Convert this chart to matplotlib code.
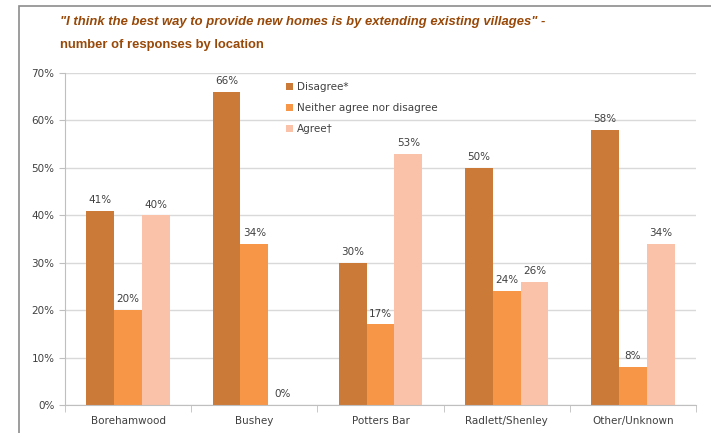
import numpy as np
import matplotlib.pyplot as plt
from matplotlib.patches import Rectangle
from matplotlib.ticker import PercentFormatter

locations = ['Borehamwood', 'Bushey', 'Potters Bar', 'Radlett/Shenley', 'Other/Unknown']
series = ['Disagree*', 'Neither agree nor disagree', 'Agree\u2020']
disagree = [41, 66, 30, 50, 58]
neither = [20, 34, 17, 24, 8]
agree = [40, 0, 53, 26, 34]
values = [disagree, neither, agree]
colors = ['#CC7A38', '#F79646', '#FAC2A8']

fig = plt.figure(figsize=(7.11, 4.33), dpi=100)
fig.patches.append(Rectangle((19/711, -0.1), 1.2, 1 - 6/433 + 0.1, transform=fig.transFigure,
                             fill=False, edgecolor='#8c8c8c', linewidth=1.2))

ax = fig.add_axes([65/711, 1 - 405/433, (696 - 65)/711, (405 - 73)/433])

x = np.arange(len(locations))
w = 0.22
for i, (vals, c, name) in enumerate(zip(values, colors, series)):
    pos = x + (i - 1) * w
    ax.bar(pos, vals, width=w, color=c, label=name)
    for p, v in zip(pos, vals):
        ax.text(p, v + 1.2, '%d%%' % v, ha='center', va='bottom', fontsize=7.5, color='#404040')

ax.set_xlim(-0.5, len(locations) - 0.5)
ax.set_ylim(0, 70)
ax.set_yticks(range(0, 71, 10))
ax.yaxis.set_major_formatter(PercentFormatter(decimals=0))
ax.yaxis.grid(True, color='#d9d9d9', linewidth=1)
ax.set_axisbelow(True)

ax.set_xticks(x)
ax.set_xticklabels(locations)
ax.set_xticks(np.arange(-0.5, len(locations)), minor=True)
ax.tick_params(axis='x', which='major', length=0, pad=8, labelsize=7.5, labelcolor='#404040')
ax.tick_params(axis='x', which='minor', length=5, color='#bfbfbf', direction='out')
ax.tick_params(axis='y', length=4, color='#bfbfbf', labelsize=7.5, labelcolor='#404040')

for s in ['top', 'right']:
    ax.spines[s].set_visible(False)
for s in ['left', 'bottom']:
    ax.spines[s].set_color('#bfbfbf')

leg = ax.legend(loc='upper left', bbox_to_anchor=(0.335, 1.0), frameon=False, fontsize=7.5,
                handlelength=0.7, handleheight=0.7, handletextpad=0.4, labelspacing=1.05)
for t in leg.get_texts():
    t.set_color('#404040')

title_font = ['Liberation Sans', 'DejaVu Sans']
fig.text(60/711, 1 - 22/433, '"I think the best way to provide new homes is by extending existing villages" -',
         fontsize=9.4, fontweight='bold', fontstyle='italic', color='#984807', va='center',
         family=title_font)
fig.text(60/711, 1 - 45/433, 'number of responses by location',
         fontsize=9.4, fontweight='bold', color='#984807', va='center', family=title_font)

fig.savefig('out.png', dpi=100)
